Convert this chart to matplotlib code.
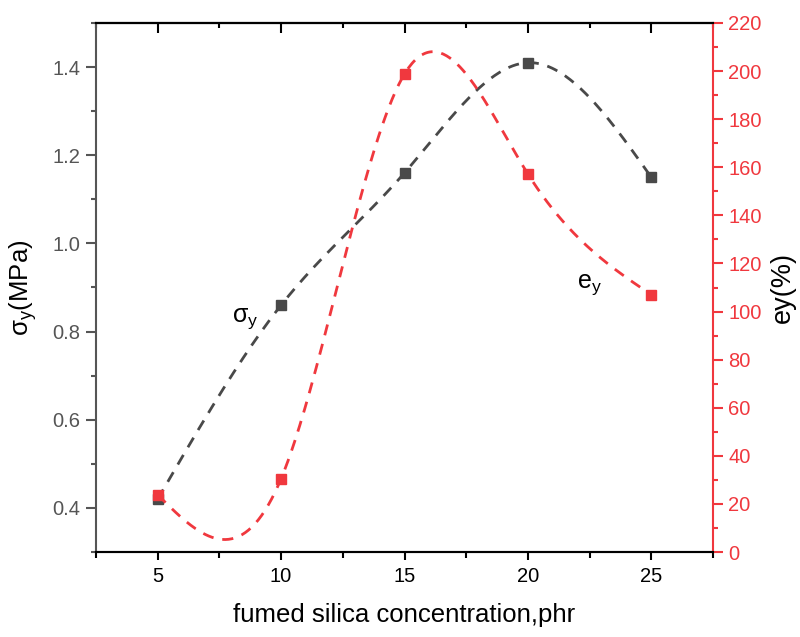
import numpy as np
import matplotlib
matplotlib.use("Agg")
import matplotlib.pyplot as plt
from matplotlib.ticker import MultipleLocator

plt.rcParams['font.family'] = ['Liberation Sans', 'DejaVu Sans']
plt.rcParams['mathtext.fontset'] = 'custom'
plt.rcParams['mathtext.rm'] = 'Liberation Sans'
plt.rcParams['mathtext.it'] = 'Liberation Sans'

conc = [5, 10, 15, 20, 25]
sigma_y = [0.42, 0.86, 1.16, 1.41, 1.15]
e_y = [23.8, 30.5, 198.8, 157.2, 107.0]

BLACK = '#494949'
RED = '#f0383e'


def natural_spline(x, y, n=300):
    x = np.asarray(x, float); y = np.asarray(y, float)
    m = len(x)
    h = np.diff(x)
    A = np.zeros((m, m)); b = np.zeros(m)
    A[0, 0] = 1; A[-1, -1] = 1
    for i in range(1, m - 1):
        A[i, i - 1] = h[i - 1]; A[i, i] = 2 * (h[i - 1] + h[i]); A[i, i + 1] = h[i]
        b[i] = 3 * ((y[i + 1] - y[i]) / h[i] - (y[i] - y[i - 1]) / h[i - 1])
    c = np.linalg.solve(A, b)
    xs = np.linspace(x[0], x[-1], n)
    ys = np.empty_like(xs)
    for k, xv in enumerate(xs):
        i = min(np.searchsorted(x, xv, side='right') - 1, m - 2)
        dx = xv - x[i]
        bb = (y[i + 1] - y[i]) / h[i] - h[i] * (2 * c[i] + c[i + 1]) / 3
        d = (c[i + 1] - c[i]) / (3 * h[i])
        ys[k] = y[i] + bb * dx + c[i] * dx ** 2 + d * dx ** 3
    return xs, ys


fig = plt.figure(figsize=(8, 6.37), dpi=100)
ax = fig.add_axes([96 / 800, 1 - 552 / 637, (713 - 96) / 800, (552 - 23) / 637])
ax2 = ax.twinx()

xs, ys = natural_spline(conc, sigma_y)
ax.plot(xs, ys, color=BLACK, lw=2, ls=(0, (4, 3.2)))
ax.plot(conc, sigma_y, 's', color=BLACK, ms=7, zorder=5)

xs2, ys2 = natural_spline(conc, e_y)
ax2.plot(xs2, ys2, color=RED, lw=2, ls=(0, (4, 3.2)))
ax2.plot(conc, e_y, 's', color=RED, ms=7, zorder=5)

ax.set_xlim(2.5, 27.5)
ax.set_ylim(0.3, 1.5)
ax2.set_ylim(0, 220)

ax.xaxis.set_major_locator(MultipleLocator(5))
ax.xaxis.set_minor_locator(MultipleLocator(2.5))
ax.set_yticks([0.4, 0.6, 0.8, 1.0, 1.2, 1.4])
ax.set_yticklabels(['0.4', '0.6', '0.8', '1.0', '1.2', '1.4'])
ax.yaxis.set_minor_locator(MultipleLocator(0.1))
ax2.yaxis.set_major_locator(MultipleLocator(20))
ax2.yaxis.set_minor_locator(MultipleLocator(10))

for a in (ax, ax2):
    for s in a.spines.values():
        s.set_linewidth(1.5)
ax.spines['left'].set_color('#555555')
ax.spines['bottom'].set_color('black')
ax.spines['top'].set_color('black')
ax2.spines['right'].set_color(RED)
ax2.spines['left'].set_visible(False)
ax.spines['right'].set_visible(False)

LS = 14.5
ax.tick_params(axis='x', which='both', direction='out', top=False, colors='black',
               labelsize=LS, width=1.5, pad=5)
ax.tick_params(axis='x', which='major', length=6)
ax.tick_params(axis='x', which='minor', length=4)
ax.tick_params(axis='y', which='both', direction='out', colors='#555555', labelsize=LS, width=1.5, pad=4)
ax.tick_params(axis='y', which='major', length=7)
ax.tick_params(axis='y', which='minor', length=3.5)
ax2.tick_params(axis='y', which='both', direction='out', colors=RED, labelsize=LS, width=1.5, pad=4)
ax2.tick_params(axis='y', which='major', length=7)
ax2.tick_params(axis='y', which='minor', length=3.5)

top = ax.secondary_xaxis('top')
top.xaxis.set_major_locator(MultipleLocator(5))
top.xaxis.set_minor_locator(MultipleLocator(2.5))
top.tick_params(axis='x', which='both', direction='in', labeltop=False, width=1.5, colors='black')
top.tick_params(axis='x', which='major', length=7)
top.tick_params(axis='x', which='minor', length=3.5)
top.spines['top'].set_linewidth(1.5)

ax.set_xlabel('fumed silica concentration,phr', fontsize=18.5, labelpad=12)
ax.set_ylabel(r'$\mathregular{\sigma_y}$(MPa)', fontsize=18.5, color='black', labelpad=10)
ax2.set_ylabel('ey(%)', fontsize=19.5, color='black', labelpad=6)

ax.text(8.0, 0.823, r'$\mathregular{\sigma_y}$', fontsize=18, color='black')
ax.text(22.0, 0.90, r'$\mathregular{e_y}$', fontsize=18, color='black')

fig.savefig('out.png', dpi=100)
